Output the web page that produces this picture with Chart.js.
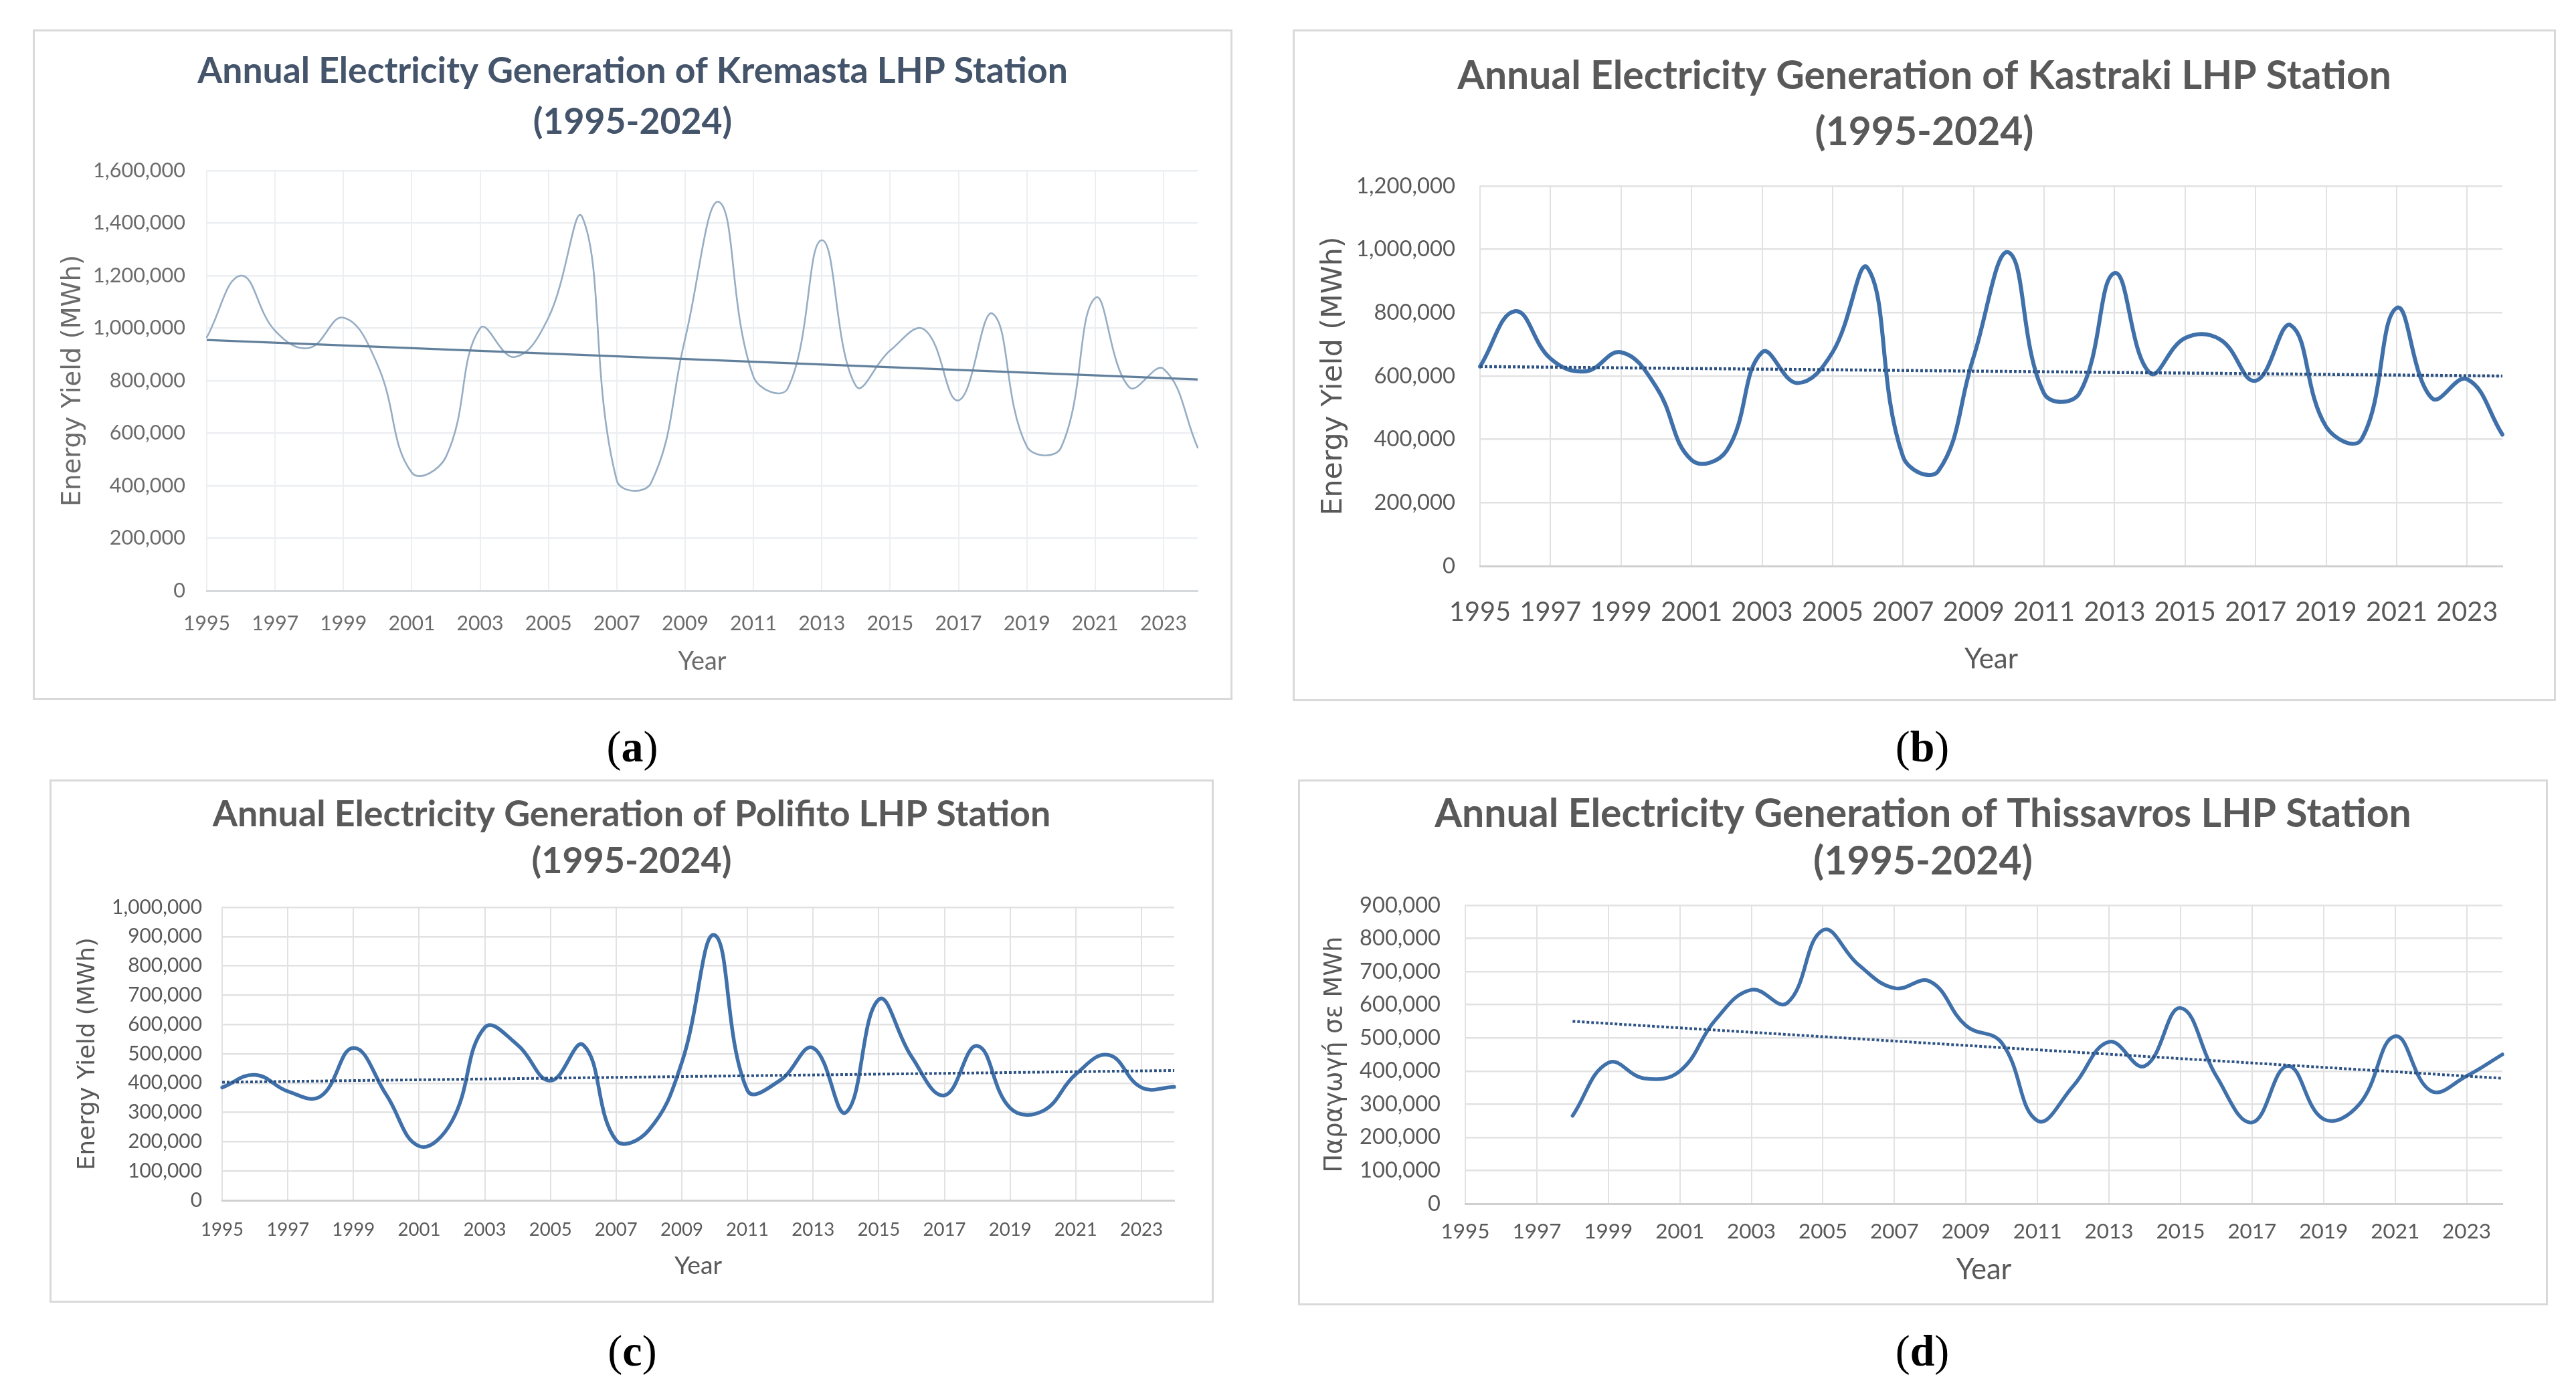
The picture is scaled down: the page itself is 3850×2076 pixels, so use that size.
<!DOCTYPE html>
<html><head><meta charset="utf-8">
<script src="https://cdn.jsdelivr.net/npm/chart.js@4.4.1/dist/chart.umd.min.js"></script>
<style>
html,body{margin:0;padding:0;background:#fff;}
body{width:3850px;height:2076px;position:relative;overflow:hidden;}
.panel{position:absolute;background:#fff;}
.panel canvas{position:absolute;left:0;top:0;}
.frame{position:absolute;left:0;top:0;right:0;bottom:0;border:3px solid #d9d9d9;box-sizing:border-box;pointer-events:none;}
.cap{position:absolute;font-family:'Liberation Serif','Times New Roman',serif;font-size:66px;color:#000;transform:translate(-50%,-50%);white-space:nowrap;}
</style></head><body>
<div class="cap" style="left:945px;top:1116px">(<b>a</b>)</div>
<div class="cap" style="left:2873px;top:1116px">(<b>b</b>)</div>
<div class="cap" style="left:945px;top:2019px">(<b>c</b>)</div>
<div class="cap" style="left:2873px;top:2019px">(<b>d</b>)</div>
<script>
// ---- data ----
const years = ['1995','1996','1997','1998','1999','2000','2001','2002','2003','2004','2005','2006','2007','2008','2009','2010','2011','2012','2013','2014','2015','2016','2017','2018','2019','2020','2021','2022','2023','2024'];
const kremasta = [965000,1200000,990000,925000,1040000,860000,450000,510000,1000000,890000,1040000,1420000,420000,410000,960000,1480000,815000,770000,1335000,780000,915000,995000,725000,1055000,550000,545000,1115000,775000,845000,545000];
const kastraki = [630000,805000,655000,615000,675000,565000,335000,365000,675000,578000,675000,940000,345000,300000,660000,990000,545000,545000,925000,610000,720000,715000,585000,760000,440000,400000,815000,530000,590000,415000];
const polifito = [385000,428000,372000,355000,520000,360000,185000,270000,590000,530000,408000,530000,205000,240000,470000,905000,375000,410000,520000,300000,685000,490000,358000,527000,315000,305000,430000,496000,385000,387000];
const thissavros = [null,null,null,265000,425000,378000,400000,555000,645000,605000,825000,720000,650000,670000,537000,485000,250000,355000,488000,415000,590000,385000,245000,415000,255000,300000,505000,340000,385000,450000];
// trend line end values (start year, end year)
const trendKremasta = [955000, 805000];
const trendKastraki = [630000, 600000];
const trendPolifito = [403000, 443000];
const trendThissavros = [550000, 378000];
const trendStartYear = {kremasta:'1995', kastraki:'1995', polifito:'1995', thissavros:'1998'};

function trendSeries(ends, startYear){
  const arr = years.map(()=>null);
  arr[years.indexOf(startYear)] = ends[0];
  arr[years.length-1] = ends[1];
  return arr;
}

const mctx = document.createElement('canvas').getContext('2d');
function fitSize(text, weight, family, target){
  mctx.font = weight + ' 100px ' + family;
  return 100 * target / mctx.measureText(text).width;
}

function makeChart(cfg){
  const wrap = document.createElement('div');
  wrap.className = 'panel';
  Object.assign(wrap.style, {left:cfg.x+'px', top:cfg.y+'px', width:cfg.w+'px', height:cfg.h+'px'});
  const cv = document.createElement('canvas');
  cv.width = cfg.w; cv.height = cfg.h;
  cv.style.width = cfg.w+'px'; cv.style.height = cfg.h+'px';
  wrap.appendChild(cv);
  const fr = document.createElement('div'); fr.className='frame'; wrap.appendChild(fr);
  document.body.appendChild(wrap);

  const titleSize = fitSize(cfg.title[0], 'bold', 'Lato', cfg.titleW);
  const tLH = cfg.titleGap;
  const padTop = cfg.t1 - tLH/2;
  const padBottom = cfg.top - (padTop + 2*tLH);
  const ytSize = fitSize(cfg.yTitle, 'normal', '"DejaVu Sans"', cfg.yTitleW);
  const yTickSize = fitSize(cfg.yWidest, 'normal', 'Lato', cfg.yTickW);
  const xTickSize = fitSize('1995', 'normal', 'Lato', cfg.xTickW);
  const yearSize = fitSize('Year', 'normal', 'Lato', cfg.yearW);

  new Chart(cv, {
    type:'line',
    data:{labels:years, datasets:[
      {data:cfg.trend, order:0, spanGaps:true, borderColor:cfg.trendColor, borderWidth:cfg.trendWidth,
       borderDash:cfg.trendDash, pointRadius:0, tension:0, fill:false},
      {data:cfg.values, order:1, borderColor:cfg.lineColor, borderWidth:cfg.lineWidth,
       pointRadius:0, tension:0.42, fill:false, borderJoinStyle:'round', borderCapStyle:'round'}
    ]},
    options:{
      responsive:false, animation:false, devicePixelRatio:1,
      events:[],
      layout:{padding:0},
      plugins:{
        legend:{display:false}, tooltip:{enabled:false},
        title:{display:true, text:cfg.title, color:cfg.titleColor,
          font:{family:'Lato', weight:'bold', size:titleSize, lineHeight:tLH/titleSize},
          padding:{top:padTop, bottom:padBottom}}
      },
      scales:{
        x:{type:'category', offset:false,
          grid:{color:(c)=> (c.index%2===0 ? cfg.grid : 'rgba(0,0,0,0)'), lineWidth:2, drawTicks:false},
          border:{display:true, color:cfg.axis, width:3},
          ticks:{autoSkip:false, maxRotation:0, minRotation:0, color:cfg.tickColor,
            font:{family:'Lato', size:xTickSize, lineHeight:1.2},
            padding:cfg.xTickC - cfg.bottom - xTickSize*0.6,
            callback:(v,i)=> (i%2===0 ? years[i] : '')},
          title:{display:true, text:'Year', color:cfg.labelColor,
            font:{family:'Lato', size:yearSize, lineHeight:1.2},
            padding:{top:0, bottom:cfg.h - cfg.yearC - yearSize*0.6}},
          afterFit:(s)=>{ s.height = cfg.h - cfg.bottom; }
        },
        y:{min:0, max:cfg.ymax,
          ticks:{stepSize:cfg.step, color:cfg.tickColor, padding:cfg.yGap,
            font:{family:'Lato', size:yTickSize, lineHeight:1.2},
            callback:(v)=> Number(v).toLocaleString('en-US')},
          grid:{color:cfg.grid, lineWidth:2.5, drawTicks:false},
          border:{display:false},
          title:{display:true, text:cfg.yTitle, color:cfg.labelColor,
            font:{family:'"DejaVu Sans"', size:ytSize, lineHeight:1.2},
            padding:{top:cfg.ytC - ytSize*0.6, bottom:0}},
          afterFit:(s)=>{ s.width = cfg.left; }
        },
        yR:{type:'linear', position:'right', display:true, min:0, max:cfg.ymax,
          grid:{display:false, drawTicks:false}, border:{display:false},
          ticks:{display:false}, title:{display:false},
          afterFit:(s)=>{ s.width = cfg.w - cfg.right; }
        }
      }
    }
  });
}

const blueLine = '#3f70aa', dotTrend = '#2d5283';
const panels = [
  {x:49, y:44, w:1793, h:1002, left:260, right:1741, top:211, bottom:839,
   title:['Annual Electricity Generation of Kremasta LHP Station','(1995-2024)'], titleW:1301, t1:63, titleGap:76, titleColor:'#44546A',
   yTitle:'Energy Yield (MWh)', yTitleW:376, ytC:61, yWidest:'1,600,000', yTickW:138, yGap:32,
   xTickW:70, xTickC:888, yearW:72, yearC:945, ymax:1600000, step:200000,
   values:kremasta, trend:trendSeries(trendKremasta, trendStartYear.kremasta),
   lineColor:'#96adc4', lineWidth:2.6, trendColor:'#62809c', trendWidth:3.2, trendDash:[],
   grid:'#eceff2', axis:'#d6d9dc', tickColor:'#6b6b6b', labelColor:'#6b6b6b'},
  {x:1932, y:44, w:1888, h:1004, left:280, right:1808, top:234, bottom:802,
   title:['Annual Electricity Generation of Kastraki LHP Station','(1995-2024)'], titleW:1396, t1:70, titleGap:84, titleColor:'#595959',
   yTitle:'Energy Yield (MWh)', yTitleW:417, ytC:62, yWidest:'1,200,000', yTickW:148, yGap:37,
   xTickW:92, xTickC:871, yearW:80, yearC:941, ymax:1200000, step:200000,
   values:kastraki, trend:trendSeries(trendKastraki, trendStartYear.kastraki),
   lineColor:blueLine, lineWidth:6, trendColor:dotTrend, trendWidth:4.5, trendDash:[4,3],
   grid:'#e2e2e2', axis:'#d0d0d0', tickColor:'#595959', labelColor:'#595959'},
  {x:74, y:1165, w:1740, h:782, left:258, right:1681, top:191, bottom:629,
   title:['Annual Electricity Generation of Polifito LHP Station','(1995-2024)'], titleW:1253, t1:53, titleGap:70, titleColor:'#595959',
   yTitle:'Energy Yield (MWh)', yTitleW:348, ytC:58, yWidest:'1,000,000', yTickW:135, yGap:30,
   xTickW:64, xTickC:673, yearW:71, yearC:727, ymax:1000000, step:100000,
   values:polifito, trend:trendSeries(trendPolifito, trendStartYear.polifito),
   lineColor:blueLine, lineWidth:5.5, trendColor:dotTrend, trendWidth:4, trendDash:[4,3],
   grid:'#e2e2e2', axis:'#d0d0d0', tickColor:'#595959', labelColor:'#595959'},
  {x:1940, y:1165, w:1868, h:786, left:250, right:1800, top:188, bottom:634,
   title:['Annual Electricity Generation of Thissavros LHP Station','(1995-2024)'], titleW:1460, t1:52, titleGap:71, titleColor:'#595959',
   yTitle:'Παραγωγή σε MWh', yTitleW:353, ytC:55, yWidest:'900,000', yTickW:121, yGap:37,
   xTickW:73, xTickC:676, yearW:83, yearC:733, ymax:900000, step:100000,
   values:thissavros, trend:trendSeries(trendThissavros, trendStartYear.thissavros),
   lineColor:blueLine, lineWidth:5.5, trendColor:dotTrend, trendWidth:4, trendDash:[4,3],
   grid:'#e2e2e2', axis:'#d0d0d0', tickColor:'#595959', labelColor:'#595959'}
];

function build(){ panels.forEach(makeChart); }
if (document.fonts && document.fonts.load) {
  Promise.all([
    document.fonts.load('bold 50px Lato'), document.fonts.load('50px Lato'),
    document.fonts.load('40px "DejaVu Sans"')
  ]).then(build, build);
} else { build(); }
</script>
</body></html>
